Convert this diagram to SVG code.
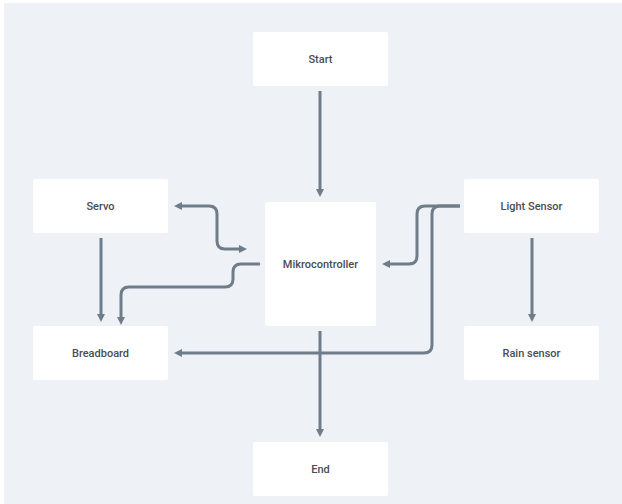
<svg xmlns="http://www.w3.org/2000/svg" width="622" height="504" viewBox="0 0 622 504">
<style>
.node rect{fill:#ffffff;}
.node text{font-family:Roboto,"Liberation Sans",sans-serif;font-size:11px;font-weight:500;fill:#4a4d52;text-anchor:middle;dominant-baseline:central;}
.edge{fill:none;stroke:#6f7c89;stroke-width:3;}
</style>
<defs>
<marker id="ah" viewBox="0 0 8 8" refX="3" refY="4" markerWidth="8" markerHeight="8" markerUnits="userSpaceOnUse" orient="auto-start-reverse">
<path d="M0,0 L8,4 L0,8 z" fill="#6f7c89"/>
</marker>
</defs>
<rect x="0" y="0" width="622" height="504" fill="#ffffff"/>
<rect x="4" y="3" width="618" height="501" fill="#eef1f5"/>
<g id="connectors">
<path class="edge" d="M320,91 V192" marker-end="url(#ah)"/>
<path class="edge" d="M320,331 V432" marker-end="url(#ah)"/>
<path class="edge" d="M179,206 H209 Q217,206 217,214 V241 Q217,249 225,249 H242" marker-start="url(#ah)" marker-end="url(#ah)"/>
<path class="edge" d="M260,264 H241 Q233,264 233,272 V279 Q233,287 225,287 H129 Q121,287 121,295 V320" marker-end="url(#ah)"/>
<path class="edge" d="M460,206 H425 Q417,206 417,214 V256 Q417,264 409,264 H387" marker-end="url(#ah)"/>
<path class="edge" d="M460,206 H440 Q432,206 432,214 V345 Q432,353 424,353 H179" marker-end="url(#ah)"/>
<path class="edge" d="M101,238 V317" marker-end="url(#ah)"/>
<path class="edge" d="M532,238 V317" marker-end="url(#ah)"/>
</g>
<g id="start" class="node"><rect x="253" y="32" width="135" height="54" rx="2"/><text x="320.5" y="59">Start</text></g>
<g id="servo" class="node"><rect x="33" y="179" width="135" height="54" rx="2"/><text x="100.5" y="206">Servo</text></g>
<g id="mikrocontroller" class="node"><rect x="265" y="202" width="111" height="124" rx="2"/><text x="320.5" y="264">Mikrocontroller</text></g>
<g id="lightsensor" class="node"><rect x="464" y="179" width="135" height="54" rx="2"/><text x="531.5" y="206">Light Sensor</text></g>
<g id="breadboard" class="node"><rect x="33" y="326" width="135" height="54" rx="2"/><text x="100.5" y="353">Breadboard</text></g>
<g id="rainsensor" class="node"><rect x="464" y="326" width="135" height="54" rx="2"/><text x="531.5" y="353">Rain sensor</text></g>
<g id="end" class="node"><rect x="253" y="442" width="135" height="54" rx="2"/><text x="320.5" y="469">End</text></g>
</svg>
